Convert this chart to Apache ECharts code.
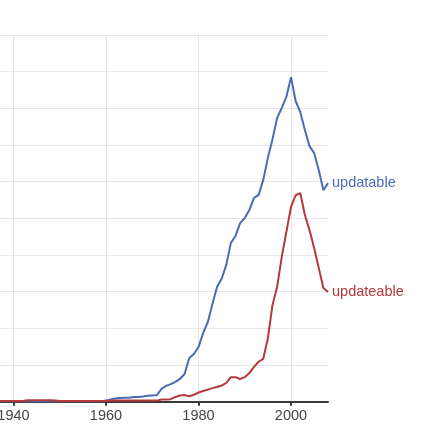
<!DOCTYPE html>
<html>
<head>
<meta charset="utf-8">
<script src="https://cdn.jsdelivr.net/npm/echarts@6/dist/echarts.min.js"></script>
<style>html,body{margin:0;padding:0;background:#fff;overflow:hidden;width:438px;height:442px}#c{position:absolute;left:-79px;top:0;width:517px;height:442px}</style>
</head>
<body>
<div id="c"></div>
<script>
const years = [];
for (let y = 1930; y <= 2008; y++) years.push(y);

const updatable = [
  0.01,0.01,0.01,0.01,0.01,0.01,0.01,0.01,0.01,0.01, // 1930-1939
  0.01,0.01,0.01,0.01,0.01,0.01,0.01,0.01,0.01,0.01, // 1940-1949
  0.01,0.01,0.01,0.01,0.01,0.01,0.01,0.01,0.01,0.01, // 1950-1959
  0.03,0.06,0.09,0.10,0.11,0.11,0.13,0.13,0.14,0.16, // 1960-1969
  0.17,0.18,0.35,0.43,0.48,0.54,0.62,0.76,1.19,1.30, // 1970-1979
  1.49,1.87,2.17,2.66,3.13,3.35,3.73,4.33,4.52,4.87, // 1980-1989
  5.01,5.23,5.56,5.64,6.05,6.65,7.16,7.74,8.01,8.31, // 1990-1999
  8.85,8.20,7.90,7.41,6.97,6.78,6.32,5.77,5.96       // 2000-2008
];
const updateable = [
  0.02,0.02,0.02,0.02,0.02,0.02,0.02,0.02,0.02,0.02, // 1930-1939
  0.02,0.02,0.02,0.04,0.04,0.04,0.04,0.04,0.04,0.03, // 1940-1949
  0.02,0.02,0.02,0.02,0.02,0.02,0.02,0.02,0.02,0.02, // 1950-1959
  0.02,0.03,0.03,0.03,0.03,0.03,0.03,0.03,0.03,0.03, // 1960-1969
  0.03,0.03,0.06,0.06,0.07,0.13,0.17,0.18,0.15,0.19, // 1970-1979
  0.25,0.29,0.33,0.37,0.40,0.44,0.51,0.67,0.67,0.62, // 1980-1989
  0.67,0.78,0.95,1.09,1.17,1.73,2.64,3.13,3.95,4.63, // 1990-1999
  5.31,5.63,5.69,5.09,4.68,4.19,3.65,3.10,2.99       // 2000-2008
];
const seriesNames = ['updatable', 'updateable'];
const colors = ['#4a6cb8', '#b5383a'];

const chart = echarts.init(document.getElementById('c'), null, {renderer: 'canvas'});
const font = "'Liberation Sans', Arial, sans-serif";
function mk(name, vals, color) {
  return {
    name: name,
    type: 'line',
    data: years.map((y, i) => [y, vals[i]]),
    showSymbol: false,
    symbol: 'none',
    lineStyle: {color: color, width: 2},
    itemStyle: {color: color},
    clip: true,
    endLabel: {
      show: true,
      formatter: '{a}',
      color: color,
      fontSize: 14.5,
      fontFamily: font,
      distance: 4
    }
  };
}
chart.setOption({
  animation: false,
  backgroundColor: '#fff',
  grid: {left: 0, right: 110, top: 35, bottom: 40.3, containLabel: false, outerBoundsMode: 'none'},
  xAxis: {
    type: 'value',
    min: 1920, max: 2008, interval: 20,
    axisLine: {show: true, onZero: false, lineStyle: {color: '#3a3a3a', width: 2}},
    axisTick: {show: true, length: 4, lineStyle: {color: '#3a3a3a', width: 2}},
    axisLabel: {color: '#444', fontSize: 14.5, fontFamily: font, margin: 7, showMaxLabel: false,
      formatter: function (v) { return String(v); }},
    splitLine: {show: true, showMaxLine: false, lineStyle: {color: '#e6e6e6', width: 1}}
  },
  yAxis: {
    type: 'value',
    min: 0, max: 10, interval: 1,
    axisLine: {show: false},
    axisTick: {show: false},
    axisLabel: {show: false},
    splitLine: {show: true, lineStyle: {color: '#e6e6e6', width: 1}}
  },
  series: [mk(seriesNames[0], updatable, colors[0]), mk(seriesNames[1], updateable, colors[1])]
});
</script>
</body>
</html>
